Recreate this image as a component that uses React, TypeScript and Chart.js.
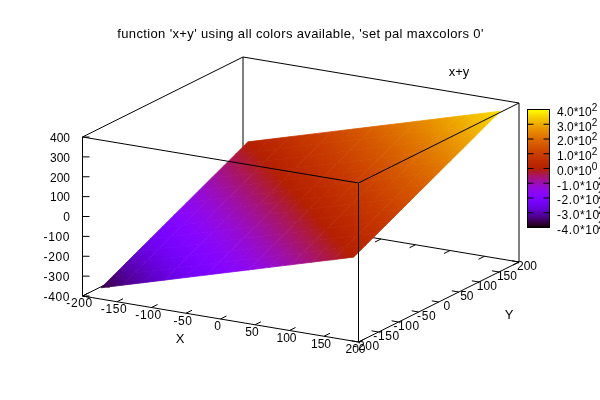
import React, { useEffect, useRef } from "react";
import { Chart, registerables } from "chart.js";

Chart.register(...registerables);

const titleText = "function 'x+y' using all colors available, 'set pal maxcolors 0'";
const xTicks = [-200, -150, -100, -50, 0, 50, 100, 150, 200];
const yTicks = [-200, -150, -100, -50, 0, 50, 100, 150, 200];
const zTicks = [-400, -300, -200, -100, 0, 100, 200, 300, 400];
const cbTicks = [-400, -300, -200, -100, 0, 100, 200, 300, 400];
const cbMant = ["-4.0*10", "-3.0*10", "-2.0*10", "-1.0*10", "0.0*10", "1.0*10", "2.0*10", "3.0*10", "4.0*10"];
const cbExp = ["2", "2", "2", "2", "0", "2", "2", "2", "2"];

const surfaceX = [-183, -152.5, -122, -91.5, -61, -30.5, 0, 30.5, 61, 91.5, 122, 152.5, 183];
const surfaceY = [-183, -152.5, -122, -91.5, -61, -30.5, 0, 30.5, 61, 91.5, 122, 152.5, 183];
const surfaceZ = [
  [-366, -335.5, -305, -274.5, -244, -213.5, -183, -152.5, -122, -91.5, -61, -30.5, 0],
  [-335.5, -305, -274.5, -244, -213.5, -183, -152.5, -122, -91.5, -61, -30.5, 0, 30.5],
  [-305, -274.5, -244, -213.5, -183, -152.5, -122, -91.5, -61, -30.5, 0, 30.5, 61],
  [-274.5, -244, -213.5, -183, -152.5, -122, -91.5, -61, -30.5, 0, 30.5, 61, 91.5],
  [-244, -213.5, -183, -152.5, -122, -91.5, -61, -30.5, 0, 30.5, 61, 91.5, 122],
  [-213.5, -183, -152.5, -122, -91.5, -61, -30.5, 0, 30.5, 61, 91.5, 122, 152.5],
  [-183, -152.5, -122, -91.5, -61, -30.5, 0, 30.5, 61, 91.5, 122, 152.5, 183],
  [-152.5, -122, -91.5, -61, -30.5, 0, 30.5, 61, 91.5, 122, 152.5, 183, 213.5],
  [-122, -91.5, -61, -30.5, 0, 30.5, 61, 91.5, 122, 152.5, 183, 213.5, 244],
  [-91.5, -61, -30.5, 0, 30.5, 61, 91.5, 122, 152.5, 183, 213.5, 244, 274.5],
  [-61, -30.5, 0, 30.5, 61, 91.5, 122, 152.5, 183, 213.5, 244, 274.5, 305],
  [-30.5, 0, 30.5, 61, 91.5, 122, 152.5, 183, 213.5, 244, 274.5, 305, 335.5],
  [0, 30.5, 61, 91.5, 122, 152.5, 183, 213.5, 244, 274.5, 305, 335.5, 366],
];

const FONT = '12px "Liberation Sans", Arial, sans-serif';
const TITLE_FONT = '13px "Liberation Sans", Arial, sans-serif';
const SUP = '10px "Liberation Sans", Arial, sans-serif';

type P = { x: number; y: number };

// Parallel projection of the gnuplot view onto the page-sized hidden scales.
function project(x: number, y: number, z: number): P {
  const u = (x + 200) / 400;
  const v = (y + 200) / 400;
  const w = (z + 400) / 800;
  return { x: 82.5 + 276 * u + 160.5 * v, y: 296 + 46 * u - 80 * v - 159 * w };
}

function cbPos(v: number) {
  return 227.5 - ((v + 400) / 800) * 118;
}

// gnuplot default palette: rgbformulae 7,5,15
function palette(v: number) {
  const g = Math.min(1, Math.max(0, (v + 400) / 800));
  const r = Math.sqrt(g);
  const gr = g * g * g;
  const b = Math.max(0, Math.sin(2 * Math.PI * g));
  return `rgb(${Math.round(r * 255)},${Math.round(gr * 255)},${Math.round(b * 255)})`;
}

const GAP = { x: NaN, y: NaN };
const segs = (list: P[][]) => list.flatMap((s) => [...s, GAP]);

const c = (x: number, y: number, z: number) => project(x, y, z);

const backLines = segs([
  [c(-200, 200, -400), c(-200, 200, 400)],
  [c(-200, -200, 400), c(-200, 200, 400)],
  [c(-200, 200, 400), c(200, 200, 400)],
  [c(-200, -200, -400), c(-200, 200, -400)],
  [c(-200, 200, -400), c(200, 200, -400)],
  ...xTicks.map((t) => {
    const p = c(t, 200, -400);
    return [p, { x: p.x - 6, y: p.y + 3 }];
  }),
  ...yTicks.map((t) => {
    const p = c(-200, t, -400);
    return [p, { x: p.x + 7, y: p.y + 1.2 }];
  }),
]);

const frontLines = segs([
  [c(-200, -200, -400), c(-200, -200, 400)],
  [c(200, -200, -400), c(200, -200, 400)],
  [c(200, 200, -400), c(200, 200, 400)],
  [c(-200, -200, 400), c(200, -200, 400)],
  [c(200, -200, 400), c(200, 200, 400)],
  [c(-200, -200, -400), c(200, -200, -400)],
  [c(200, -200, -400), c(200, 200, -400)],
  ...xTicks.map((t) => {
    const p = c(t, -200, -400);
    return [p, { x: p.x + 6, y: p.y - 3 }];
  }),
  ...yTicks.map((t) => {
    const p = c(200, t, -400);
    return [p, { x: p.x - 7, y: p.y - 1.2 }];
  }),
  ...zTicks.map((t) => {
    const p = c(-200, -200, t);
    return [p, { x: p.x + 7, y: p.y }];
  }),
  [{ x: 527.5, y: cbPos(-400) }, { x: 549.5, y: cbPos(-400) }, { x: 549.5, y: cbPos(400) }, { x: 527.5, y: cbPos(400) }, { x: 527.5, y: cbPos(-400) }],
  ...cbTicks.flatMap((t) => [
    [{ x: 527.5, y: cbPos(t) }, { x: 533.5, y: cbPos(t) }],
    [{ x: 543.5, y: cbPos(t) }, { x: 549.5, y: cbPos(t) }],
  ]),
]);

const surfacePlugin = {
  id: "surface",
  beforeDatasetDraw(chart: any, args: any) {
    if (chart.data.datasets[args.index].label !== "front") return;
    const { ctx, scales } = chart;
    const px = (p: P) => ({ x: scales.x.getPixelForValue(p.x), y: scales.y.getPixelForValue(p.y) });
    // colour bar
    const top = scales.y.getPixelForValue(cbPos(400));
    const bot = scales.y.getPixelForValue(cbPos(-400));
    const bar = ctx.createLinearGradient(0, bot, 0, top);
    for (let i = 0; i <= 64; i++) bar.addColorStop(i / 64, palette(-400 + (800 * i) / 64));
    ctx.save();
    ctx.fillStyle = bar;
    ctx.fillRect(scales.x.getPixelForValue(527.5), top, 22, bot - top);
    // surface cells: each gradient runs a little past its cell so the seams match
    const EXT = 0.25;
    for (let j = 0; j < surfaceY.length - 1; j++) {
      for (let i = 0; i < surfaceX.length - 1; i++) {
        const z00 = surfaceZ[j][i];
        const z11 = surfaceZ[j + 1][i + 1];
        const p00 = px(project(surfaceX[i], surfaceY[j], z00));
        const p10 = px(project(surfaceX[i + 1], surfaceY[j], surfaceZ[j][i + 1]));
        const p11 = px(project(surfaceX[i + 1], surfaceY[j + 1], z11));
        const p01 = px(project(surfaceX[i], surfaceY[j + 1], surfaceZ[j + 1][i]));
        const ix = p10.x - p01.x;
        const iy = p10.y - p01.y;
        const nx = -iy;
        const ny = ix;
        const k = ((p11.x - p00.x) * nx + (p11.y - p00.y) * ny) / (nx * nx + ny * ny);
        const g = ctx.createLinearGradient(
          p00.x - nx * k * EXT,
          p00.y - ny * k * EXT,
          p00.x + nx * k * (1 + EXT),
          p00.y + ny * k * (1 + EXT)
        );
        const zA = z00 - (z11 - z00) * EXT;
        const zB = z11 + (z11 - z00) * EXT;
        for (let s = 0; s <= 8; s++) g.addColorStop(s / 8, palette(zA + ((zB - zA) * s) / 8));
        ctx.beginPath();
        ctx.moveTo(p00.x, p00.y);
        ctx.lineTo(p10.x, p10.y);
        ctx.lineTo(p11.x, p11.y);
        ctx.lineTo(p01.x, p01.y);
        ctx.closePath();
        ctx.fillStyle = g;
        ctx.strokeStyle = g;
        ctx.lineWidth = 0.8;
        ctx.fill();
        ctx.stroke();
      }
    }
    ctx.restore();
  },
  afterDatasetsDraw(chart: any) {
    const { ctx, scales } = chart;
    const text = (s: string, x: number, y: number, align: CanvasTextAlign = "center", font = FONT, spacing = "0px") => {
      ctx.font = font;
      ctx.letterSpacing = spacing;
      ctx.textAlign = align;
      ctx.textBaseline = "middle";
      ctx.fillStyle = "#000";
      ctx.fillText(s, scales.x.getPixelForValue(x), scales.y.getPixelForValue(y));
    };
    const num = (v: number) => (v < 0 ? "0.6px" : "0px");
    ctx.save();
    text(titleText, 300.5, 34, "center", TITLE_FONT, "0.36px");
    text("x+y", 459, 72.5, "center", TITLE_FONT);
    text("X", 180, 339.5, "center", TITLE_FONT);
    text("Y", 509, 315.5, "center", TITLE_FONT);
    zTicks.forEach((t) => {
      const p = project(-200, -200, t);
      text(String(t), 70, p.y + 1.5, "right", FONT, num(t));
    });
    xTicks.forEach((t) => {
      const p = project(t, -200, -400);
      text(String(t), p.x - 3, p.y + 8, "center", FONT, num(t));
    });
    yTicks.forEach((t) => {
      const p = project(200, t, -400);
      text(String(t), p.x + 8, p.y + 4.5, "center", FONT, num(t));
    });
    cbTicks.forEach((t, i) => {
      const y = cbPos(t);
      text(cbMant[i], 557, y + 3, "left", FONT, num(t));
      const w = ctx.measureText(cbMant[i]).width;
      text(cbExp[i], Math.min(557 + w, 598), y - 1.5, "left", SUP);
    });
    ctx.restore();
  },
};

export default function App() {
  const ref = useRef<HTMLCanvasElement>(null);
  useEffect(() => {
    const chart = new Chart(ref.current!, {
      type: "scatter",
      data: {
        datasets: [
          { label: "back", data: backLines, showLine: true, spanGaps: false, borderColor: "#000", borderWidth: 1, pointRadius: 0, order: 2 },
          { label: "front", data: frontLines, showLine: true, spanGaps: false, borderColor: "#000", borderWidth: 1, pointRadius: 0, order: 1 },
        ],
      },
      options: {
        animation: false,
        responsive: false,
        layout: { padding: 0 },
        plugins: { legend: { display: false }, tooltip: { enabled: false }, title: { display: false } },
        scales: {
          x: { type: "linear", min: 0, max: 600, display: false },
          y: { type: "linear", min: 0, max: 400, reverse: true, display: false },
        },
      },
      plugins: [surfacePlugin],
    } as any);
    return () => chart.destroy();
  }, []);
  return (
    <div style={{ position: "fixed", left: 0, top: 0, width: 600, height: 400, background: "#fff" }}>
      <canvas ref={ref} width={600} height={400} style={{ display: "block" }} />
    </div>
  );
}
